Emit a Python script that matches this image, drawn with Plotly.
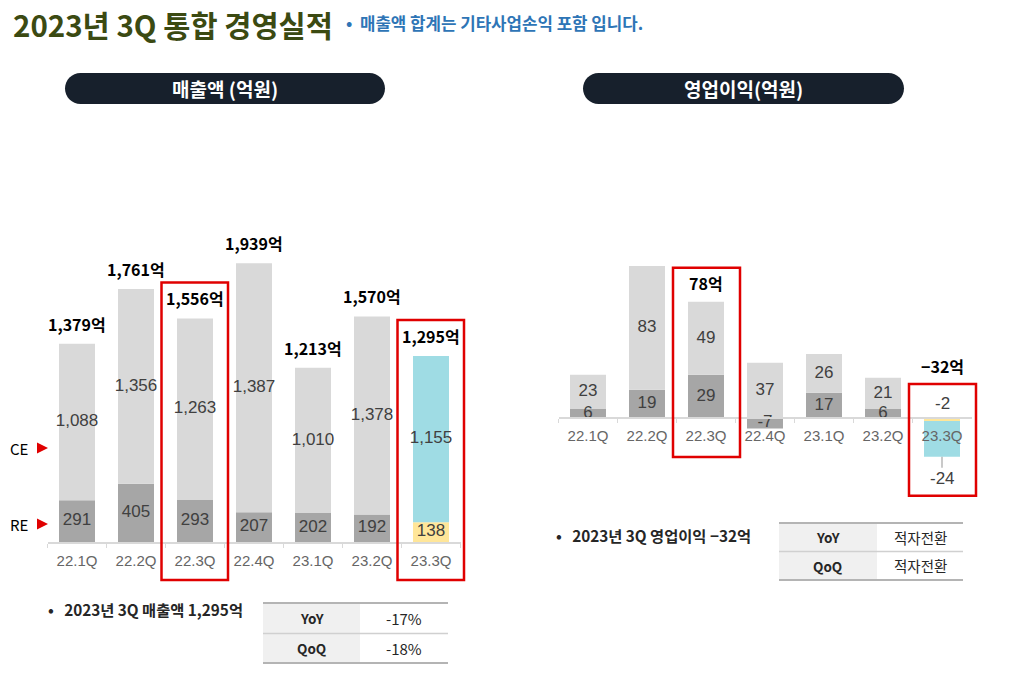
import plotly.graph_objects as go

# page body has an 8px margin: draw on a slightly smaller canvas and map reference pixels
OFF = 8
W, H = 1024 - OFF, 681 - OFF

# ---------------- data ----------------
quarters = ["22.1Q", "22.2Q", "22.3Q", "22.4Q", "23.1Q", "23.2Q", "23.3Q"]
rev_total = [1379, 1761, 1556, 1939, 1213, 1570, 1295]
rev_re = [291, 405, 293, 207, 202, 192, 138]
rev_ce = [1088, 1356, 1263, 1387, 1010, 1378, 1155]

op_re = [6, 19, 29, -7, 17, 6, -2]
op_ce = [23, 83, 49, 37, 26, 21, -24]
op_total = [None, None, 78, None, None, None, -32]

highlight = ["22.3Q", "23.3Q"]

rev_table = [("YoY", "-17%"), ("QoQ", "-18%")]
op_table = [("YoY", "적자전환"), ("QoQ", "적자전환")]

# ---------------- styles ----------------
KR = "Noto Sans CJK KR"
NUM = "Liberation Sans"
C_DARK = "#a6a6a6"
C_LIGHT = "#d9d9d9"
C_CYAN = "#9fdce4"
C_YEL = "#ffe699"
C_RED = "#e00000"
C_LBL = "#404040"

n = len(quarters)

# layout geometry (reference pixels)
SLOT = 59.0
L_X0 = 47.5
L_BASE, L_SCALE = 542.0, 0.1437
L_YR = [0, 2400]
R_X0 = 558.5
R_BASE, R_SCALE = 418.0, 1.49
R_YR = [-50, 150]


def X(px):
    return (px - OFF) / W


def Y(py):
    return 1 - (py - OFF) / H


def lpx(v):
    return L_BASE - v * L_SCALE


def rpx(v):
    return R_BASE - v * R_SCALE


def cx(x0, i):
    return x0 + (i + 0.5) * SLOT


fig = go.Figure()

# ---------------- left chart: revenue ----------------
re_cols = [C_DARK] * (n - 1) + [C_YEL]
ce_cols = [C_LIGHT] * (n - 1) + [C_CYAN]
upper = [t - r for t, r in zip(rev_total, rev_re)]

fig.add_bar(x=quarters, y=rev_re, marker=dict(color=re_cols, line=dict(width=0)),
            width=0.61, xaxis="x", yaxis="y", hoverinfo="skip")
fig.add_bar(x=quarters, y=upper, marker=dict(color=ce_cols, line=dict(width=0)),
            width=0.61, xaxis="x", yaxis="y", hoverinfo="skip")

fig.add_scatter(x=quarters, y=[r / 2 for r in rev_re], mode="text",
                text=[f"{v:,}" for v in rev_re], textposition="middle center",
                textfont=dict(family=NUM, size=17, color=C_LBL),
                cliponaxis=False, xaxis="x", yaxis="y", hoverinfo="skip")
fig.add_scatter(x=quarters, y=[r + u / 2 for r, u in zip(rev_re, upper)], mode="text",
                text=[f"{v:,}" for v in rev_ce], textposition="middle center",
                textfont=dict(family=NUM, size=17, color=C_LBL),
                cliponaxis=False, xaxis="x", yaxis="y", hoverinfo="skip")

annotations = []
for q, t in zip(quarters, rev_total):
    annotations.append(dict(x=q, y=t, xref="x", yref="y", text=f"<b>{t:,}억</b>",
                            showarrow=False, xanchor="center", yanchor="bottom", yshift=6,
                            font=dict(family=KR, size=16, color="#000000")))

# ---------------- right chart: operating profit ----------------
fig.add_bar(x=quarters, y=op_re, marker=dict(color=re_cols, line=dict(width=0)),
            width=0.61, xaxis="x2", yaxis="y2", hoverinfo="skip")
fig.add_bar(x=quarters, y=op_ce, marker=dict(color=ce_cols, line=dict(width=0)),
            width=0.61, xaxis="x2", yaxis="y2", hoverinfo="skip")

lbl_x, lbl_y, lbl_t = [], [], []
op_pos_top, op_neg_bot = [], []
for i, q in enumerate(quarters):
    bp, bn = 0, 0
    mids = []
    for v in (op_re[i], op_ce[i]):
        if v >= 0:
            mids.append(bp + v / 2)
            bp += v
        else:
            mids.append(bn + v / 2)
            bn += v
    op_pos_top.append(bp)
    op_neg_bot.append(bn)
    if bp == 0:  # all-negative bar: labels outside
        annotations.append(dict(x=q, y=0, xref="x2", yref="y2", text=f"{op_re[i]}",
                                showarrow=False, xanchor="center", yanchor="bottom", yshift=3,
                                font=dict(family=NUM, size=17, color=C_LBL)))
        annotations.append(dict(x=q, y=bn, xref="x2", yref="y2", text=f"{op_ce[i]}",
                                showarrow=True, arrowhead=0, arrowwidth=1.2,
                                arrowcolor="#a6a6a6", ax=0, ay=22,
                                font=dict(family=NUM, size=17, color=C_LBL)))
    else:
        for m, v in zip(mids, (op_re[i], op_ce[i])):
            lbl_x.append(q)
            lbl_y.append(m)
            lbl_t.append(f"{v}")

fig.add_scatter(x=lbl_x, y=lbl_y, mode="text", text=lbl_t, textposition="middle center",
                textfont=dict(family=NUM, size=17, color=C_LBL),
                cliponaxis=False, xaxis="x2", yaxis="y2", hoverinfo="skip")

for i, (q, t) in enumerate(zip(quarters, op_total)):
    if t is None:
        continue
    if t >= 0:
        annotations.append(dict(x=q, y=op_pos_top[i], xref="x2", yref="y2",
                                text=f"<b>{t}억</b>", showarrow=False, xanchor="center",
                                yanchor="bottom", yshift=5,
                                font=dict(family=KR, size=16, color="#000000")))
    else:
        annotations.append(dict(x=q, y=0, xref="x2", yref="y2",
                                text=f"<b>{t}억</b>".replace("-", "−"), showarrow=False,
                                xanchor="center", yanchor="bottom", yshift=38,
                                font=dict(family=KR, size=16, color="#000000")))

# ---------------- shapes ----------------
shapes = []

# highlight boxes
for q in highlight:
    i = quarters.index(q)
    c = cx(L_X0, i)
    shapes.append(dict(type="rect", xref="paper", yref="paper",
                       x0=X(c - 33.5), x1=X(c + 33), y0=Y(lpx(rev_total[i]) - 36),
                       y1=Y(L_BASE + 38), line=dict(color=C_RED, width=2.5),
                       fillcolor="rgba(0,0,0,0)"))
    c = cx(R_X0, i)
    top = min(rpx(op_pos_top[i]), R_BASE) - 34
    bot = max(rpx(op_neg_bot[i]), R_BASE) + 39
    shapes.append(dict(type="rect", xref="paper", yref="paper",
                       x0=X(c - 33), x1=X(c + 34), y0=Y(top), y1=Y(bot),
                       line=dict(color=C_RED, width=2.5), fillcolor="rgba(0,0,0,0)"))


def pill(x0, y0, x1, y1):
    r = (y1 - y0) / 2
    k = 0.5523 * r
    p = (f"M {X(x0 + r)},{Y(y0)} L {X(x1 - r)},{Y(y0)} "
         f"C {X(x1 - r + k)},{Y(y0)} {X(x1)},{Y(y0 + r - k)} {X(x1)},{Y(y0 + r)} "
         f"C {X(x1)},{Y(y0 + r + k)} {X(x1 - r + k)},{Y(y1)} {X(x1 - r)},{Y(y1)} "
         f"L {X(x0 + r)},{Y(y1)} "
         f"C {X(x0 + r - k)},{Y(y1)} {X(x0)},{Y(y0 + r + k)} {X(x0)},{Y(y0 + r)} "
         f"C {X(x0)},{Y(y0 + r - k)} {X(x0 + r - k)},{Y(y0)} {X(x0 + r)},{Y(y0)} Z")
    return dict(type="path", xref="paper", yref="paper", path=p,
                fillcolor="#17202c", line=dict(width=0), layer="below")


shapes.append(pill(65, 73, 385, 104))
shapes.append(pill(583, 73, 904, 104))

# CE / RE markers
for yc in (448, 524):
    shapes.append(dict(type="path", xref="paper", yref="paper",
                       path=f"M {X(37)},{Y(yc - 5.5)} L {X(48)},{Y(yc)} L {X(37)},{Y(yc + 5.5)} Z",
                       fillcolor=C_RED, line=dict(width=0)))


def pa(px, py, text, size, color, xanchor="center", bold=False, family=KR):
    return dict(x=X(px), y=Y(py), xref="paper", yref="paper", xanchor=xanchor,
                yanchor="middle", text=f"<b>{text}</b>" if bold else text,
                showarrow=False, font=dict(family=family, size=size, color=color))


def table(x0, xm, x1, ys, rows, tfont_val):
    out = []
    out.append(dict(type="rect", xref="paper", yref="paper", x0=X(x0), x1=X(xm),
                    y0=Y(ys[0]), y1=Y(ys[2]), fillcolor="#f0f0f0", line=dict(width=0),
                    layer="below"))
    for j, yy in enumerate(ys):
        out.append(dict(type="line", xref="paper", yref="paper", x0=X(x0), x1=X(x1),
                        y0=Y(yy), y1=Y(yy),
                        line=dict(color="#b4b4b4" if j != 1 else "#d0d0d0",
                                  width=2.2 if j != 1 else 1.5)))
    ann = []
    for r, (k, v) in enumerate(rows):
        yc = (ys[r] + ys[r + 1]) / 2
        ann.append(pa((x0 + xm) / 2, yc, k, 13.5, "#262626", bold=True))
        ann.append(pa((xm + x1) / 2, yc, v, tfont_val, "#262626"))
    return out, ann


s, a = table(263, 360, 448, [603, 633.5, 663], rev_table, 15)
shapes += s
annotations += a
s, a = table(779, 877, 963, [523, 551.5, 580], op_table, 14.5)
shapes += s
annotations += a

# ---------------- texts ----------------
annotations += [
    pa(11, 23.5, "2023년 3Q 통합 경영실적", 29.5, "#3b4a12", xanchor="left", bold=True),
    pa(344, 23, "•  매출액 합계는 기타사업손익 포함 입니다.", 16.8, "#2e75b6",
       xanchor="left", bold=True),
    pa(225, 88.5, "매출액 (억원)", 19, "#ffffff", bold=True),
    pa(743.5, 88.5, "영업이익(억원)", 19, "#ffffff", bold=True),
    pa(19, 448, "CE", 15, "#000000"),
    pa(19, 524, "RE", 15, "#000000"),
    pa(46, 609, "•   2023년 3Q 매출액 1,295억", 15.3, "#262626", xanchor="left", bold=True),
    pa(554, 535, "•   2023년 3Q 영업이익 −32억", 15.3, "#262626", xanchor="left", bold=True),
]

# ---------------- axes ----------------
xa = dict(type="category", categoryorder="array", categoryarray=quarters,
          range=[-0.5, n - 0.5], showline=True, linecolor="#d9d9d9", linewidth=1.5,
          ticks="outside", tickson="boundaries", ticklen=4, tickcolor="#d9d9d9",
          tickwidth=1, ticklabelstandoff=4,
          tickfont=dict(family=NUM, size=15, color="#666666"),
          showgrid=False, zeroline=False, fixedrange=True)
ya = dict(visible=False, showgrid=False, zeroline=False, fixedrange=True)

fig.update_layout(
    width=W, height=H, margin=dict(l=0, r=0, t=0, b=0),
    paper_bgcolor="#ffffff", plot_bgcolor="rgba(0,0,0,0)",
    showlegend=False, barmode="relative",
    xaxis=dict(xa, domain=[X(L_X0), X(L_X0 + n * SLOT)], anchor="y"),
    yaxis=dict(ya, range=L_YR, domain=[Y(lpx(L_YR[0])), Y(lpx(L_YR[1]))], anchor="x"),
    xaxis2=dict(xa, domain=[X(R_X0), X(R_X0 + n * SLOT)], anchor="free",
                position=Y(R_BASE)),
    yaxis2=dict(ya, range=R_YR, domain=[Y(rpx(R_YR[0])), Y(rpx(R_YR[1]))], anchor="x2"),
    shapes=shapes, annotations=annotations,
)

fig.write_html("out.html")
